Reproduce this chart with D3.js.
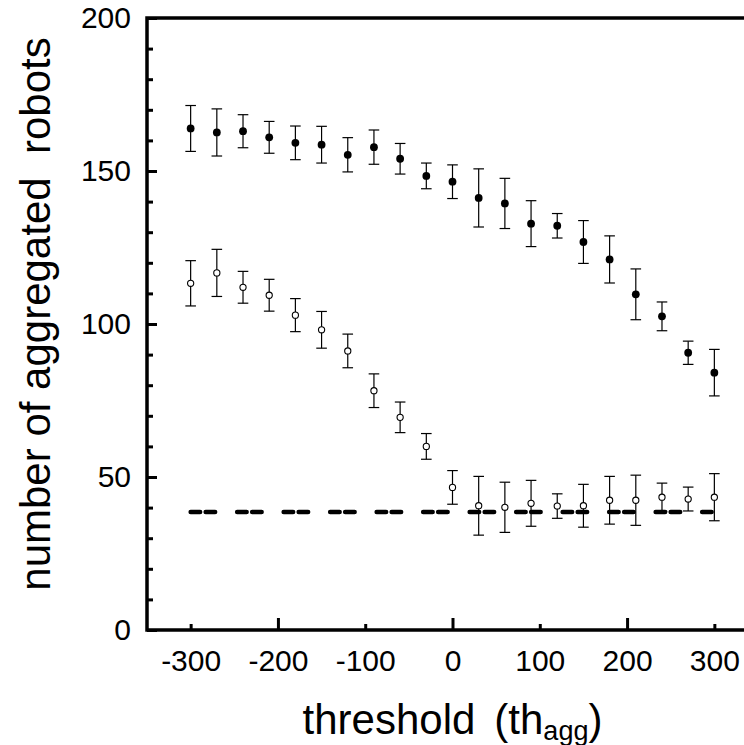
<!DOCTYPE html>
<html>
<head>
<meta charset="utf-8">
<script src="https://cdn.jsdelivr.net/npm/d3@7"></script>
<style>
  body { margin: 0; background: #fff; }
  svg { display: block; font-family: "Liberation Sans", Arial, sans-serif; }
  .tick text { fill: #000; }
</style>
</head>
<body>
<div id="chart-area"></div>
<script>
// threshold values (x) and the two measured series with their error bars
const thresholds = [-300, -270, -240, -210, -180, -150, -120, -90, -60, -30, 0,
                    30, 60, 90, 120, 150, 180, 210, 240, 270, 300];
const filledMean = [163.9, 162.6, 163.0, 161.0, 159.2, 158.6, 155.3, 157.8, 154.0, 148.4, 146.5,
                    141.2, 139.4, 132.8, 132.1, 126.8, 121.1, 109.7, 102.5, 90.6, 84.1];
const filledErr  = [7.5, 7.7, 5.4, 5.2, 5.5, 6.0, 5.6, 5.6, 5.0, 4.2, 5.5,
                    9.5, 8.2, 7.5, 4.0, 7.0, 7.7, 8.3, 4.7, 3.8, 7.6];
const openMean   = [113.3, 116.7, 112.0, 109.4, 102.9, 98.1, 91.2, 78.2, 69.5, 60.0, 46.6,
                    40.6, 40.1, 41.4, 40.5, 40.6, 42.4, 42.4, 43.4, 42.8, 43.4];
const openErr    = [7.4, 7.7, 5.2, 5.2, 5.4, 6.0, 5.5, 5.5, 5.0, 4.2, 5.5,
                    9.6, 8.2, 7.5, 4.0, 7.0, 7.8, 8.2, 4.6, 3.9, 7.7];
const baselineValue = 38.6; // dashed reference level
const xLabelTicks = [-300, -200, -100, 0, 100, 200, 300];
const yLabelTicks = [0, 50, 100, 150, 200];
const yMinorTicks = [10, 20, 30, 40, 60, 70, 80, 90, 110, 120, 130, 140, 160, 170, 180, 190];

const width = 744, height = 745;
const margin = { top: 18, left: 147, bottom: 115 };
const plotRight = 758; // frame runs past the right edge of the window

const svg = d3.select("#chart-area")
    .append("svg")
    .attr("width", width)
    .attr("height", height);

const x = d3.scaleLinear().domain([-350, 350]).range([margin.left, plotRight]);
const y = d3.scaleLinear().domain([0, 200]).range([height - margin.bottom, margin.top]);

const series = [
    { mean: filledMean, err: filledErr, filled: true },
    { mean: openMean, err: openErr, filled: false }
];

// dashed reference line
svg.append("line")
    .attr("x1", x(-300)).attr("x2", x(300))
    .attr("y1", y(baselineValue)).attr("y2", y(baselineValue))
    .attr("stroke", "#000")
    .attr("stroke-width", 4.5)
    .attr("stroke-linecap", "round")
    .attr("stroke-dasharray", "9.5 5.5 9.5 22");

// error bars + markers
series.forEach(s => {
    const pts = thresholds.map((t, i) => ({ t: t, m: s.mean[i], e: s.err[i] }));
    const g = svg.append("g");
    const bars = g.selectAll(".err").data(pts).enter().append("g")
        .attr("stroke", "#000").attr("stroke-width", 1.2);
    bars.append("line")
        .attr("x1", d => x(d.t)).attr("x2", d => x(d.t))
        .attr("y1", d => y(d.m - d.e)).attr("y2", d => y(d.m + d.e));
    [-1, 1].forEach(sign => {
        bars.append("line")
            .attr("x1", d => x(d.t) - 5.3).attr("x2", d => x(d.t) + 5.3)
            .attr("y1", d => y(d.m + sign * d.e)).attr("y2", d => y(d.m + sign * d.e));
    });
    g.selectAll(".pt").data(pts).enter().append("circle")
        .attr("cx", d => x(d.t))
        .attr("cy", d => y(d.m))
        .attr("r", s.filled ? 3.9 : 3.1)
        .attr("fill", s.filled ? "#000" : "#fff")
        .attr("stroke", "#000")
        .attr("stroke-width", s.filled ? 0 : 1.1);
});

// axes (plain hyphen for negatives, like the original)
const fmt = d => String(d);

const yAxis = svg.append("g")
    .attr("transform", `translate(${margin.left},0)`)
    .call(d3.axisLeft(y).tickValues(yLabelTicks).tickSize(-10).tickPadding(16).tickFormat(fmt));
yAxis.select(".domain").remove();
yAxis.selectAll(".tick line").attr("stroke", "#000").attr("stroke-width", 3);
yAxis.selectAll(".tick text").attr("font-size", 30).attr("font-family", "Liberation Sans, Arial, sans-serif");

const yMinor = svg.append("g")
    .attr("transform", `translate(${margin.left},0)`)
    .call(d3.axisLeft(y).tickValues(yMinorTicks).tickSize(-6).tickFormat(""));
yMinor.select(".domain").remove();
yMinor.selectAll(".tick line").attr("stroke", "#000").attr("stroke-width", 3);

const xAxis = svg.append("g")
    .attr("transform", `translate(0,${y(0)})`)
    .call(d3.axisBottom(x).tickValues(xLabelTicks).tickSize(-6).tickPadding(20).tickFormat(fmt));
xAxis.select(".domain").remove();
xAxis.selectAll(".tick line")
    .attr("stroke", "#000").attr("stroke-width", 3)
    .attr("y2", d => d % 200 === 0 ? -12 : -6);
xAxis.selectAll(".tick text").attr("font-size", 30).attr("font-family", "Liberation Sans, Arial, sans-serif");

// frame: left, bottom and top lines
svg.append("path")
    .attr("d", `M${plotRight},${y(200)}H${margin.left}V${y(0)}H${plotRight}`)
    .attr("fill", "none")
    .attr("stroke", "#000")
    .attr("stroke-width", 3.5)
    .attr("stroke-linejoin", "miter");

// axis titles
const xTitle = svg.append("text")
    .attr("x", x(0))
    .attr("y", 734)
    .attr("text-anchor", "middle")
    .attr("font-size", 42)
    .text("threshold");
xTitle.append("tspan").attr("dx", 19).text("(th");
xTitle.append("tspan").attr("font-size", 27).attr("dy", 6).text("agg");
xTitle.append("tspan").attr("dy", -6).text(")");

svg.append("text")
    .attr("transform", `translate(50,${314}) rotate(-90)`)
    .attr("text-anchor", "middle")
    .attr("font-size", 42)
    .attr("xml:space", "preserve")
    .text("number of aggregated  robots");
</script>
</body>
</html>
